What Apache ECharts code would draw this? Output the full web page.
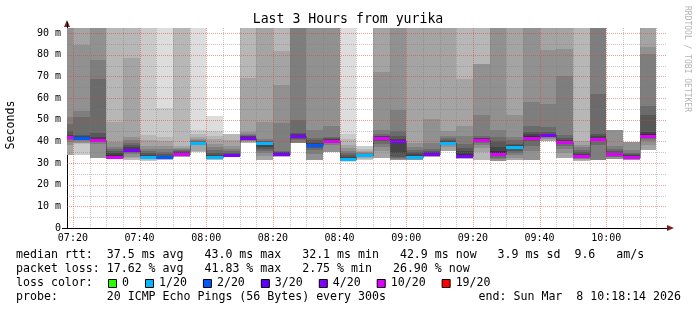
<!DOCTYPE html>
<html>
<head>
<meta charset="utf-8">
<script src="https://cdn.jsdelivr.net/npm/echarts@6.0.0/dist/echarts.min.js"></script>
<style>
html,body{margin:0;padding:0;background:#ffffff;}
#chart{width:697px;height:310px;}
</style>
</head>
<body>
<div id="chart"></div>
<script>
const N = null;
// ---- data ----
const titleText = 'Last 3 Hours from yurika';
const timeRange = ['07:18:14', '10:18:14'];
const binMinutes = 5;
const binStarts = ['07:15','07:20','07:25','07:30','07:35','07:40','07:45','07:50','07:55',
  '08:00','08:05','08:10','08:15','08:20','08:25','08:30','08:35','08:40','08:45','08:50','08:55',
  '09:00','09:05','09:10','09:15','09:20','09:25','09:30','09:35','09:40','09:45','09:50','09:55',
  '10:00','10:05','10:10'];
// 20 sorted ping rtts (ms) per bin, lost pings as null (split to both ends)
const pingsByBin = [
  [N,N,N,33.7,38.5,39.8,40.8,41.2,41.5,41.8,42.3,43,45,48,51.4,95,95,N,N,N],
  [N,33.7,39.0,39.2,39.5,40.0,40.5,41.2,41.5,41.8,42.2,42.5,42.9,51.4,54.2,84.5,95,95,95,N],
  [N,N,N,N,32.2,39.0,40.0,40.3,40.5,40.7,41.2,42.0,44.0,68.8,77.5,95,N,N,N,N],
  [N,N,31.7,32.0,32.2,32.4,32.5,32.6,32.7,32.8,33.5,34.5,35.5,36.5,37.5,39.8,49.1,95,N,N],
  [N,N,31.5,32.2,33.0,34.0,34.6,35.2,35.7,36.1,36.6,37.5,38.5,39.5,40.5,42.1,78.5,95,N,N],
  [N,31.0,31.4,31.7,31.9,32.0,32.1,32.3,32.4,32.6,33.2,33.8,34.5,35.5,36.5,37.8,40.6,42.9,95,N],
  [31.2,31.4,31.6,31.8,31.9,32.0,32.1,32.3,32.5,32.6,32.9,33.3,34.0,35.0,36.5,38.0,40.0,42.2,55.3,95],
  [N,N,32.6,33.0,33.3,33.5,33.7,33.9,34.1,34.3,34.6,35.0,35.4,35.9,36.4,37.0,37.8,95,N,N],
  [35.2,35.2,35.3,35.4,38.7,38.9,39.0,39.1,39.15,39.2,39.4,39.6,39.8,40.1,40.5,41.0,42.0,43.3,45.2,95],
  [31.2,31.4,31.6,31.8,32.0,32.1,32.2,32.35,32.5,32.6,33.1,33.8,34.8,36.0,37.5,39.0,41.0,42.5,45.0,51.8],
  [N,N,32.8,33.0,33.2,33.3,33.4,33.55,33.7,33.8,34.1,34.4,34.8,35.5,36.5,38.0,40.6,43.5,N,N],
  [N,N,39.2,39.6,40.0,40.4,40.8,41.2,41.5,41.8,42.0,42.3,42.6,43.0,43.6,44.5,69.5,95,N,N],
  [N,N,N,31.4,33.4,34.5,35.5,36.5,37.3,39.4,39.6,39.8,40.0,40.4,41.0,49.0,95,N,N,N],
  [N,N,33.0,33.3,33.5,33.7,33.9,34.0,34.15,34.3,34.7,35.0,35.3,35.8,48.5,66.0,81.6,95,N,N],
  [N,N,N,N,N,39.4,40.5,41.3,42.0,42.6,43.0,43.3,43.8,49.8,95,N,N,N,N,N],
  [N,N,N,N,31.5,34.0,36.0,37.0,37.6,38.3,38.8,39.5,40.5,41.8,45.5,95,N,N,N,N],
  [N,N,N,N,35.3,38.5,39.3,39.8,40.1,40.4,40.7,41.0,41.4,42.0,47.0,95,N,N,N,N],
  [30.7,30.9,31.1,31.2,31.35,31.45,31.55,31.65,31.8,31.9,32.3,32.8,33.5,34.5,35.8,37.0,38.5,41.0,43.5,95],
  [N,31.4,31.8,32.2,32.6,32.9,33.1,33.3,33.5,33.7,33.85,33.95,34.1,34.3,34.6,35.0,35.5,36.5,38.0,N],
  [N,N,N,32.5,35.5,37.5,39.0,40.3,41.2,41.8,42.0,42.3,42.7,43.5,45.3,72.2,95,N,N,N],
  [N,N,N,N,31.5,31.9,32.3,33.0,34.5,40.2,40.5,41.0,42.5,44.7,54.5,95,N,N,N,N],
  [N,N,N,31.3,31.6,31.9,32.2,32.5,32.8,33.0,33.4,34.0,35.0,36.0,37.5,39.5,95,N,N,N],
  [N,N,N,32.8,33.2,33.5,33.7,33.9,34.05,34.2,34.6,35.0,35.5,36.5,39.2,50.5,95,N,N,N],
  [N,N,N,35.5,37.5,38.3,38.7,39.0,39.15,39.3,39.6,40.0,40.5,41.5,42.5,44.6,95,N,N,N],
  [N,N,31.8,32.2,32.5,32.7,32.9,33.1,33.25,33.4,34.3,35.5,37.0,39.0,42.5,47.3,68.8,95,N,N],
  [N,N,31.4,35.0,37.0,38.5,39.5,40.0,40.4,40.8,41.1,41.4,41.8,42.5,52.4,75.7,75.7,95,N,N],
  [N,N,N,N,31.0,31.8,32.5,33.2,33.8,34.2,35.5,37.5,40.0,42.0,45.2,95,N,N,N,N],
  [N,N,N,31.5,32.5,33.5,34.5,35.5,36.5,37.4,37.7,38.2,39.0,40.5,42.2,52.3,95,N,N,N],
  [N,N,N,N,31.2,35.5,38.0,40.0,41.0,41.8,42.5,43.3,44.5,47.0,58.3,95,N,N,N,N],
  [N,N,N,40.3,41.0,41.5,41.9,42.3,42.6,42.9,43.2,43.6,44.5,46.8,57.2,82.2,95,N,N,N],
  [N,N,N,32.5,34.5,36.5,37.8,38.7,39.3,39.7,40.0,40.6,41.5,43.0,70.2,82.6,95,N,N,N],
  [N,N,30.9,31.3,31.7,32.0,32.3,32.6,32.9,33.2,33.6,34.2,35.0,36.0,37.3,38.5,40.3,95,N,N],
  [N,N,N,N,N,31.2,38.5,40.0,40.8,41.3,41.8,42.5,43.5,61.9,95,N,N,N,N,N],
  [N,N,N,N,32.0,32.6,33.0,33.4,33.7,34.0,34.3,34.8,35.5,36.5,37.7,45.2,N,N,N,N],
  [N,N,N,N,31.5,31.8,32.1,32.4,32.6,32.8,33.1,33.5,34.0,34.8,36.0,39.7,N,N,N,N],
  [N,N,N,36.2,38.5,40.0,41.0,41.8,42.3,42.7,43.2,44.5,52.2,56.3,80.3,83.5,95,N,N,N]
];
const medianRtt = [42.0,41.8,40.7,32.8,36.1,32.6,32.6,34.3,39.2,32.6,33.8,41.8,39.4,34.3,42.6,38.3,40.4,31.9,
  33.7,41.8,40.2,33.0,34.2,39.3,33.4,40.8,34.2,37.4,41.8,42.9,39.7,33.2,41.3,34.0,32.8,42.7];
const lostPings = [6,2,6,6,4,1,2,6,1,1,4,4,1,4,4,2,6,1,1,6,4,1,4,1,4,6,6,1,6,4,6,6,6,6,6,6];
const lossThresholds = [0,1,2,3,4,10,19];
const lossLabels = ['0','1/20','2/20','3/20','4/20','10/20','19/20'];
const lossColors = ['#26ff00','#00b8ff','#0059ff','#5e00ff','#7e00ff','#dd00ff','#ff0000'];
const yMax = 92.4;
const yStep = 10;
const rttStats = ['37.5 ms avg', '43.0 ms max', '32.1 ms min', '42.9 ms now', '3.9 ms sd', '9.6   am/s'];
const lossStats = ['17.62 % avg', '41.83 % max', '2.75 % min', '26.90 % now'];
const probeText = '20 ICMP Echo Pings (56 Bytes) every 300s';
const endText = 'end: Sun Mar  8 10:18:14 2026';

// ---- helpers ----
const toMin = s => { const p = s.split(':').map(Number); return p[0]*60 + p[1] + (p[2]||0)/60; };
const tStart = toMin(timeRange[0]), tEnd = toMin(timeRange[1]);
const pad2 = n => String(n).padStart(2,'0');
const fmtTime = v => pad2(Math.floor(v/60)) + ':' + pad2(Math.round(v%60));
const greyOf = k => { const g = Math.floor(190/10*(10-k)) + 50; return 'rgb(' + g + ',' + g + ',' + g + ')'; };
function lossColor(l) {
  let last = -1;
  for (let i = 0; i < lossThresholds.length; i++) {
    if (l > last && l <= lossThresholds[i]) return lossColors[i];
    last = lossThresholds[i];
  }
  return lossColors[lossColors.length-1];
}
const MONO = '"DejaVu Sans Mono", monospace';
const majorGrid = 'rgba(225,60,60,0.5)';
const minorGrid = 'rgba(120,120,120,0.4)';

const binData = binStarts.map((s,i) => [toMin(s), toMin(s)+binMinutes, medianRtt[i], lostPings[i]]);

const gridData = [];
for (let t = Math.ceil(tStart/binMinutes)*binMinutes; t < tEnd; t += binMinutes) gridData.push([t, 0, t % 20 === 0 ? 1 : 0]);
for (let v = 5; v < yMax; v += 5) gridData.push([v, 1, v % yStep === 0 ? 1 : 0]);
gridData.sort((a,b) => a[2]-b[2]);

function renderSmoke(params, api) {
  const i = params.dataIndex;
  const p = pingsByBin[i];
  const x0 = Math.round(api.coord([api.value(0), 0])[0]);
  const x1 = Math.round(api.coord([api.value(1), 0])[0]);
  const children = [];
  for (let k = 1; k <= 10; k++) {
    const lo = p[k-1], hi = p[20-k];
    if (lo == null || hi == null) continue;
    const yLo = Math.round(api.coord([api.value(0), lo])[1]);
    const yHi = Math.round(api.coord([api.value(0), hi])[1]);
    if (yLo - yHi <= 0) continue;
    children.push({type:'rect', shape:{x:x0, y:yHi, width:x1-x0, height:yLo-yHi}, style:{fill:greyOf(k)}});
  }
  return {type:'group', children};
}

function renderMedian(params, api) {
  const i = params.dataIndex;
  const m = api.value(2);
  if (m == null || isNaN(m)) return null;
  const x0 = Math.round(api.coord([api.value(0), m])[0]);
  const x1 = Math.round(api.coord([api.value(1), m])[0]);
  const yc = api.coord([api.value(0), m])[1];
  const children = [];
  if (i > 0 && medianRtt[i-1] != null) {
    const yp = api.coord([api.value(0), medianRtt[i-1]])[1];
    children.push({type:'line', shape:{x1:x0+0.5, y1:Math.round(yp)+0.5, x2:x0+0.5, y2:Math.round(yc)+0.5},
      style:{stroke:'#202020', lineWidth:1, lineDash:[1,1]}});
  }
  children.push({type:'line', shape:{x1:x0, y1:Math.round(yc)+0.5, x2:x1, y2:Math.round(yc)+0.5},
      style:{stroke:'#202020', lineWidth:1}});
  children.push({type:'rect', shape:{x:x0, y:Math.round(yc)-1, width:x1-x0, height:3},
      style:{fill:lossColor(api.value(3))}});
  return {type:'group', children};
}

function renderGrid(params, api) {
  const v = api.value(0), dir = api.value(1), major = api.value(2);
  const cs = params.coordSys;
  let shape;
  if (dir === 0) {
    const x = Math.round(api.coord([v, 0])[0]) + 0.5;
    shape = {x1:x, y1:cs.y, x2:x, y2:cs.y + cs.height};
  } else {
    const y = Math.round(api.coord([tStart, v])[1]) + 0.5;
    shape = {x1:cs.x, y1:y, x2:cs.x + cs.width, y2:y};
  }
  return {type:'line', shape, style:{stroke: major ? majorGrid : minorGrid, lineWidth:1, lineDash:[1,1]}};
}

// ---- legend graphics ----
const graphics = [];
const txt = (x, y, text, opt) => Object.assign({type:'text', x, y, silent:true,
  style:Object.assign({text, font:'11.6px ' + MONO, fill:'#000', align:'left', verticalAlign:'middle'}, opt||{})});
graphics.push(txt(348, 19.5, titleText, {font:'13.2px ' + MONO, align:'center'}));
graphics.push(Object.assign(txt(11, 125, 'Seconds', {align:'center'}), {rotation: Math.PI/2}));
graphics.push(Object.assign(txt(687, 59, 'RRDTOOL / TOBI OETIKER', {align:'center', font:'8px ' + MONO, fill:'#b4b4b4'}), {rotation: -Math.PI/2}));
graphics.push(txt(16, 255, 'median rtt:  ' + rttStats.slice(0,4).join('   ') + '   ' + rttStats[4] + '  ' + rttStats[5]));
graphics.push(txt(16, 269, 'packet loss: ' + lossStats.join('   ')));
graphics.push(txt(16, 283, 'loss color:'));
let lx = 108;
const cw = 11.6 * 0.602;
lossLabels.forEach((lab, i) => {
  graphics.push({type:'rect', silent:true, shape:{x:lx+0.5, y:279.5, width:8, height:8}, style:{fill:lossColors[i], stroke:'#000', lineWidth:1}});
  graphics.push(txt(lx + 14, 283, lab));
  lx = lx + 14 + lab.length*cw + 16;
});
graphics.push(txt(16, 297, 'probe:       ' + probeText));
graphics.push(txt(681, 297, endText, {align:'right'}));
// axis arrows (decoration)
graphics.push({type:'polygon', silent:true, shape:{points:[[64,27],[70,27],[67,20]]}, style:{fill:'#7f1f1f'}});
graphics.push({type:'polygon', silent:true, shape:{points:[[667,225],[667,231],[674,228]]}, style:{fill:'#7f1f1f'}});
graphics.push({type:'line', silent:true, shape:{x1:67.5, y1:22, x2:67.5, y2:28}, style:{stroke:'#000', lineWidth:1}});
graphics.push({type:'line', silent:true, shape:{x1:62, y1:228.5, x2:67, y2:228.5}, style:{stroke:'#000', lineWidth:1}});

const chart = echarts.init(document.getElementById('chart'), null, {renderer:'canvas', width:697, height:310});
chart.setOption({
  animation: false,
  backgroundColor: '#ffffff',
  grid: {left:67, right:30, top:28, bottom:82, containLabel:false},
  xAxis: {
    type:'value', min:tStart, max:tEnd, splitNumber:9,
    axisLine:{show:true, onZero:false, lineStyle:{color:'#000', width:1}},
    axisTick:{show:false}, splitLine:{show:false},
    axisLabel:{formatter: v => (Math.abs(v - Math.round(v/20)*20) < 1e-6 ? fmtTime(v) : ''),
      showMinLabel:false, showMaxLabel:false, fontFamily:MONO, fontSize:10, color:'#000', margin:5}
  },
  yAxis: {
    type:'value', min:0, max:yMax, interval:yStep,
    axisLine:{show:true, lineStyle:{color:'#000', width:1}},
    axisTick:{show:false}, splitLine:{show:false},
    axisLabel:{formatter: v => (v === 0 ? '0' : (v % yStep === 0 ? v + ' m' : '')),
      showMaxLabel:false, fontFamily:MONO, fontSize:10, color:'#000', margin:6}
  },
  series: [
    {type:'custom', name:'smoke', renderItem:renderSmoke, data:binData, clip:true, z:2, silent:true},
    {type:'custom', name:'median', renderItem:renderMedian, data:binData, clip:true, z:3, silent:true},
    {type:'custom', name:'grid', renderItem:renderGrid, data:gridData, clip:true, z:4, silent:true}
  ],
  graphic: graphics
});
</script>
</body>
</html>
